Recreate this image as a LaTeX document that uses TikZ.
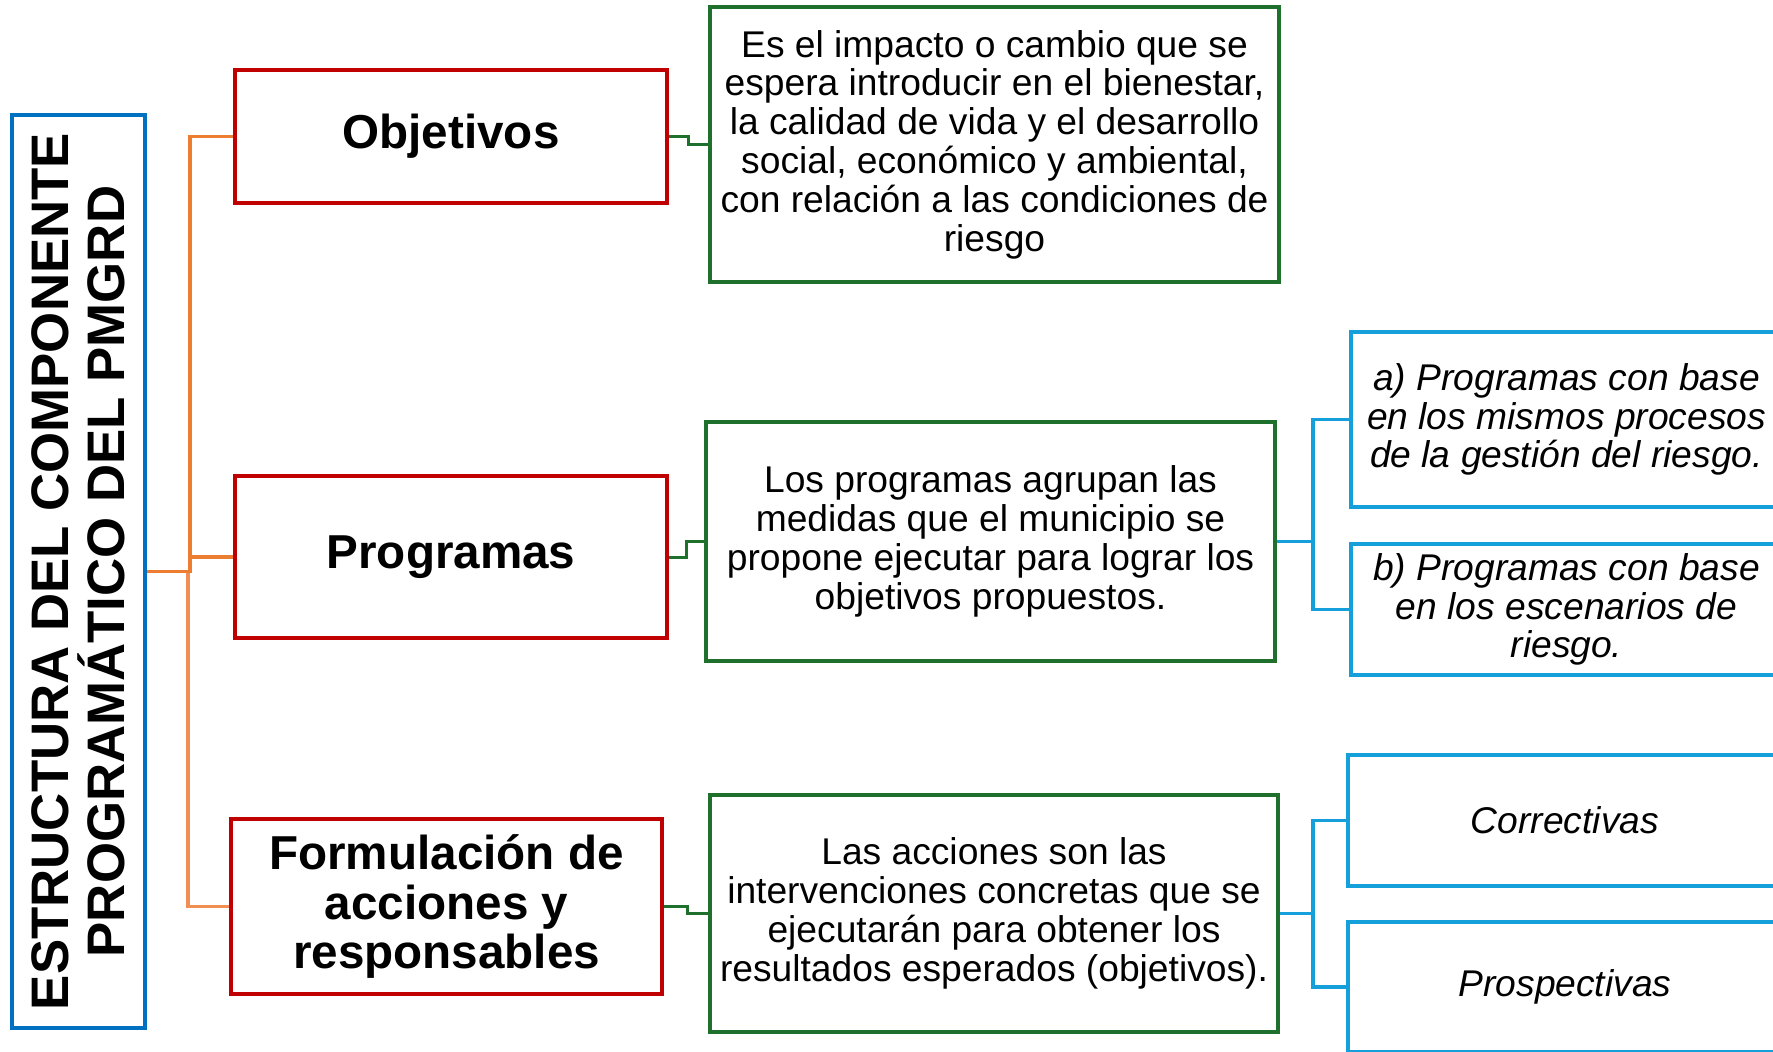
\documentclass[tikz,border=0pt]{standalone}
\usepackage{fontspec}
\setmainfont{Liberation Sans}
\definecolor{cred}{RGB}{192,0,0}
\definecolor{cgreen}{RGB}{31,112,45}
\definecolor{ctitle}{RGB}{0,112,192}
\definecolor{cblue}{RGB}{22,160,219}
\definecolor{corange}{RGB}{237,125,49}
\definecolor{corangel}{RGB}{241,142,84}
\tikzset{
  titlebox/.style={draw=ctitle, line width=1.9pt, inner sep=0pt, align=center,
    font=\fontsize{26.4}{28}\selectfont\bfseries},
  redbox/.style={draw=cred, line width=1.8pt, inner sep=0pt, align=center,
    font=\fontsize{23.8}{24.9}\selectfont\bfseries},
  greenbox/.style={draw=cgreen, line width=1.7pt, inner sep=0pt, align=center,
    font=\fontsize{18.6}{19.4}\selectfont},
  bluebox/.style={draw=cblue, line width=1.7pt, inner sep=0pt, align=center,
    font=\fontsize{18.6}{19.4}\selectfont\itshape},
  oline/.style={draw=corange, line width=1.7pt},
  olinel/.style={draw=corangel, line width=1.7pt},
  gline/.style={draw=cgreen, line width=1.5pt},
  bline/.style={draw=cblue, line width=1.7pt},
}
\begin{document}
\begin{tikzpicture}[x=0.5pt, y=-0.5pt]
\useasboundingbox (0,0) rectangle (1773,1051);
\clip (0,0) rectangle (1773,1051);
\fill[white] (0,0) rectangle (1773,1051);

\node[titlebox, rotate=90, minimum width=456.5pt, minimum height=66.5pt] (title) at (78.5,571.5)
  {ESTRUCTURA DEL COMPONENTE\\PROGRAMÁTICO DEL PMGRD};

\node[redbox, minimum width=216pt, minimum height=66.5pt] (obj) at (451,136.5) {Objetivos};
\node[redbox, minimum width=216pt, minimum height=81pt] (prog) at (451,557) {Programas};
\node[redbox, minimum width=215.5pt, minimum height=87.5pt] (form) at (446.5,906.5)
  {Formulación de\\acciones y\\responsables};

\node[greenbox, minimum width=284.5pt, minimum height=137.5pt] (g1) at (994.5,144.5)
  {Es el impacto o cambio que se\\espera introducir en el bienestar,\\la calidad de vida y el desarrollo\\social, económico y ambiental,\\con relación a las condiciones de\\riesgo};
\node[greenbox, minimum width=284.5pt, minimum height=119.5pt] (g2) at (990.5,541.5)
  {Los programas agrupan las\\medidas que el municipio se\\propone ejecutar para lograr los\\objetivos propuestos.};
\node[greenbox, minimum width=284pt, minimum height=118.5pt] (g3) at (994,913.5)
  {Las acciones son las\\intervenciones concretas que se\\ejecutarán para obtener los\\resultados esperados (objetivos).};

\node[bluebox, minimum width=215.5pt, minimum height=87.5pt] (ba) at (1566.5,419.5)
  {a) Programas con base\\en los mismos procesos\\de la gestión del riesgo.};
\node[bluebox, minimum width=215.5pt, minimum height=65.5pt] (bb) at (1566.5,609.5)
  {b) Programas con base\\en los escenarios de\\riesgo.};
\node[bluebox, minimum width=217pt, minimum height=65.5pt] (bc) at (1565,820.5) {Correctivas};
\node[bluebox, minimum width=217pt, minimum height=65pt] (bd) at (1565,987) {Prospectivas};

% orange tree
\coordinate (ox) at (190,0);
\coordinate (oxl) at (188,0);
\draw[olinel] (title.south -| oxl) |- (form.west);
\draw[oline] (title.south) -- (title.south -| ox) |- (obj.west);
\draw[oline] (prog.west -| ox) -- (prog.west);

% green steps
\coordinate (gx1) at (688,0);
\coordinate (gx2) at (686,0);
\coordinate (gx3) at (687,0);
\draw[gline] (obj.east) -- (obj.east -| gx1) -- (g1.west -| gx1) -- (g1.west);
\draw[gline] (prog.east) -- (prog.east -| gx2) -- (g2.west -| gx2) -- (g2.west);
\draw[gline] (form.east) -- (form.east -| gx3) -- (g3.west -| gx3) -- (g3.west);

% blue trees
\coordinate (bx) at (1313,0);
\draw[bline] (g2.east) -- (g2.east -| bx);
\draw[bline] (ba.west) -| (bb.west -| bx) -- (bb.west);
\draw[bline] (g3.east) -- (g3.east -| bx);
\draw[bline] (bc.west) -| (bd.west -| bx) -- (bd.west);
\end{tikzpicture}
\end{document}
